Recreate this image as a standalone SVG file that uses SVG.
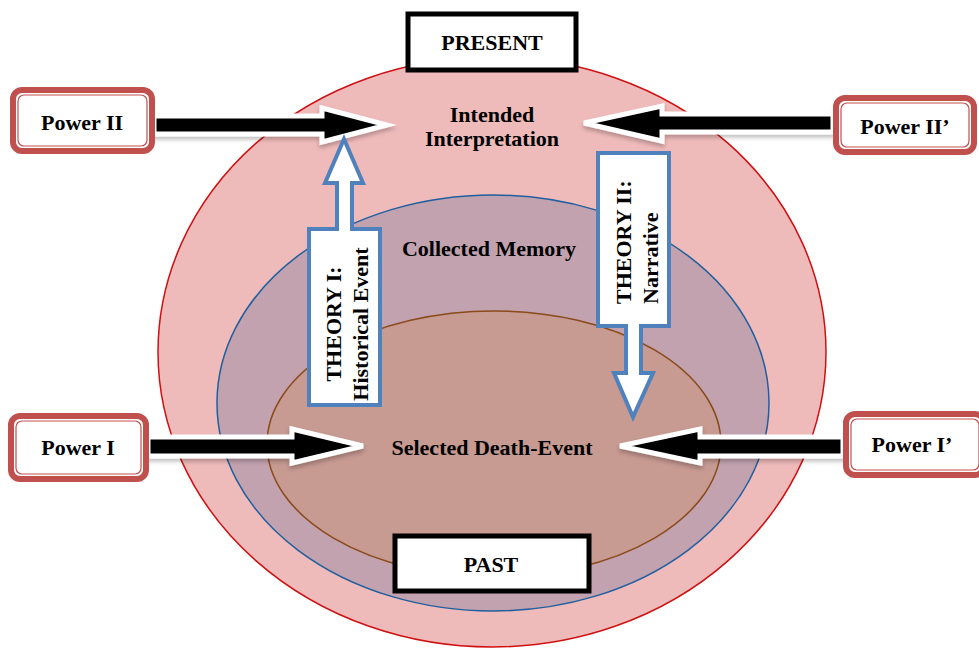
<svg xmlns="http://www.w3.org/2000/svg" width="979" height="648" viewBox="0 0 979 648">
<defs>
<filter id="sh" x="-10%" y="-30%" width="120%" height="160%">
<feDropShadow dx="0" dy="3" stdDeviation="2" flood-color="#000" flood-opacity="0.25"/>
</filter>
</defs>
<style>
.t{font-family:"Liberation Serif","Times New Roman",serif;font-weight:bold;fill:#000;text-anchor:middle;font-size:22px}
.s{text-anchor:start}
.pw{fill:#fff;stroke:#c0504d;stroke-width:6}
.pwi{fill:none;stroke:#c0504d;stroke-width:1.2}
.bx{fill:#fff;stroke:#000;stroke-width:5}
.ar{fill:#000;stroke:#fff;stroke-width:5;stroke-linejoin:miter;filter:url(#sh)}
.th{fill:#fff;stroke:#4f81bd;stroke-width:4;stroke-linejoin:miter}
</style>
<rect width="979" height="648" fill="#fff"/>
<g id="outer"><ellipse cx="492" cy="352" rx="334" ry="295" fill="#efbaba" stroke="#d01010" stroke-width="1.5"/></g>
<g id="middle"><ellipse cx="493" cy="403" rx="276" ry="208" fill="#c3a2af" stroke="#1f5f9f" stroke-width="1.5"/></g>
<g id="inner"><ellipse cx="494" cy="444" rx="227" ry="133" fill="#c79a92" stroke="#8a4a1a" stroke-width="1.5"/></g>
<g id="labels">
<text class="t" x="492" y="122">Intended</text>
<text class="t" x="492" y="146">Interpretation</text>
<text class="t" x="489" y="256">Collected Memory</text>
<text class="t" x="492" y="455">Selected Death-Event</text>
</g>
<g id="connectors">
<polygon class="ar" points="154,116 322,116 322,108 387,125 322,142 322,134 154,134"/>
<polygon class="ar" points="833,114 662,114 662,106 584,123 662,141 662,132 833,132"/>
<polygon class="ar" points="148,437 292,437 292,429 363,446 292,463 292,456 148,456"/>
<polygon class="ar" points="843,437 700,437 700,429 620,446 700,463 700,456 843,456"/>
</g>
<g id="theory1">
<polygon class="th" points="309,229 337,229 337,183 325,183 344,139 363,183 352,183 352,229 380,229 380,405 309,405"/>
<text class="t" transform="translate(341,324) rotate(-90)">THEORY I:</text>
<text class="t" transform="translate(368,324) rotate(-90)">Historical Event</text>
</g>
<g id="theory2">
<polygon class="th" points="598,153 669,153 669,326 641,326 641,373 653,373 633,417 614,373 626,373 626,326 598,326"/>
<text class="t s" transform="translate(631,304) rotate(-90)">THEORY II:</text>
<text class="t s" transform="translate(658,304) rotate(-90)">Narrative</text>
</g>
<g id="present"><rect class="bx" x="408" y="14" width="168" height="56"/><text class="t" x="492" y="50">PRESENT</text></g>
<g id="past"><rect class="bx" x="395" y="536" width="194" height="55"/><text class="t" x="491" y="572">PAST</text></g>
<g id="power2"><rect class="pw" x="13" y="90" width="139" height="61" rx="9"/><rect class="pwi" x="18" y="95" width="129" height="51" rx="6"/><text class="t" x="82" y="130">Power II</text></g>
<g id="power2p"><rect class="pw" x="836" y="98" width="138" height="54" rx="9"/><rect class="pwi" x="841" y="103" width="128" height="44" rx="6"/><text class="t" x="905" y="134">Power II’</text></g>
<g id="power1"><rect class="pw" x="11" y="416" width="135" height="63" rx="9"/><rect class="pwi" x="16" y="421" width="125" height="53" rx="6"/><text class="t" x="78" y="455">Power I</text></g>
<g id="power1p"><rect class="pw" x="846" y="414" width="138" height="61" rx="9"/><rect class="pwi" x="851" y="419" width="128" height="51" rx="6"/><text class="t" x="912" y="452">Power I’</text></g>
</svg>
